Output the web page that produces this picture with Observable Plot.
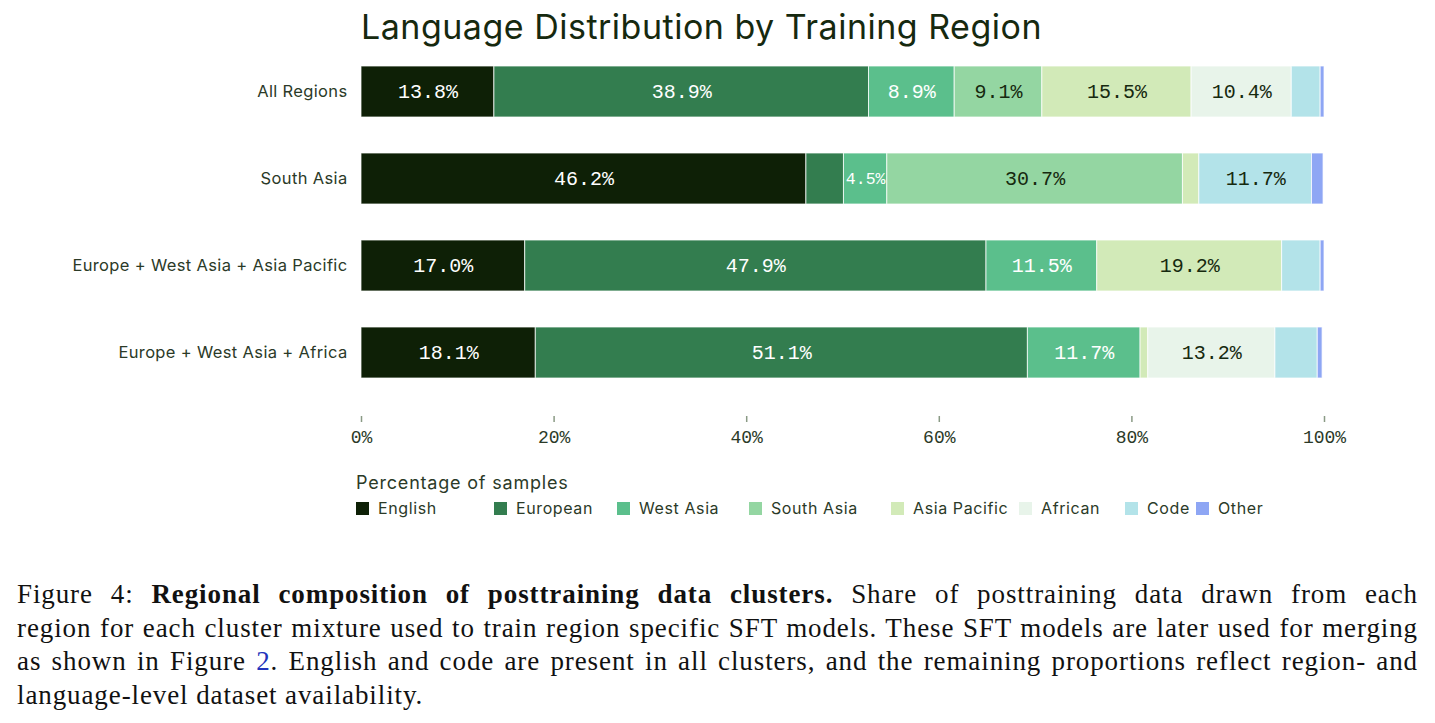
<!DOCTYPE html>
<html>
<head>
<meta charset="utf-8">
<script src="https://cdn.jsdelivr.net/npm/d3@7"></script>
<script src="https://cdn.jsdelivr.net/npm/@observablehq/plot@0.6"></script>
<style>
  html, body { margin: 0; padding: 0; background: #fff; }
  body { width: 1435px; height: 723px; overflow: hidden; position: relative; }
  #title { position: absolute; left: 361px; top: 0; height: 54px; line-height: 54px;
    font-family: Inter, sans-serif; font-size: 34px; letter-spacing: 0.5px; color: #16290f; white-space: nowrap; }
  #chart { position: absolute; left: 0; top: 54px; }
  #chart svg g[aria-label="y-axis tick label"] text { letter-spacing: 0.35px; }
  #legend { position: absolute; left: 356px; top: 470px; font-family: Inter, sans-serif; color: #2b3a28; }
  #legend .lt { font-size: 18px; letter-spacing: 0.8px; height: 26px; line-height: 26px; }
  #legend .row { display: grid; grid-template-columns: 138px 123px 132px 142px 128px 106px 71px auto;
    align-items: center; height: 24px; font-size: 16px; letter-spacing: 0.6px; }
  #legend .item { display: inline-flex; align-items: center; white-space: nowrap; }
  #legend .sw { width: 13px; height: 13px; margin-right: 9px; display: inline-block; }
  #caption { position: absolute; left: 17px; top: 578px; width: 1401px;
    font-family: "Liberation Serif", "Times New Roman", serif; font-size: 27px; letter-spacing: 0.9px; color: #111; }
  #caption .ln { height: 33.5px; line-height: 33.5px; text-align: justify; text-align-last: justify; white-space: nowrap; }
  #caption .ln.last { text-align-last: left; }
  #caption .ref { color: #2233bb; }
</style>
</head>
<body>
<div id="title">Language Distribution by Training Region</div>
<div id="chart"></div>
<div id="legend"></div>
<div id="caption">
  <div class="ln"><span>Figure 4: <b>Regional composition of posttraining data clusters.</b> Share of posttraining data drawn from each</span></div>
  <div class="ln"><span>region for each cluster mixture used to train region specific SFT models. These SFT models are later used for merging</span></div>
  <div class="ln"><span>as shown in Figure <span class="ref">2</span>. English and code are present in all clusters, and the remaining proportions reflect region- and</span></div>
  <div class="ln last"><span>language-level dataset availability.</span></div>
</div>
<script>
// ---- data ----
const regions = ["All Regions", "South Asia", "Europe + West Asia + Asia Pacific", "Europe + West Asia + Africa"];
const languages = ["English", "European", "West Asia", "South Asia", "Asia Pacific", "African", "Code", "Other"];
const colors = ["#0e2006", "#337d4f", "#5bbf8c", "#94d6a2", "#d2eab8", "#e8f4ea", "#b3e3e9", "#8ea6f4"];
const english     = [13.8, 46.2, 17.0, 18.1];
const european    = [38.9,  3.9, 47.9, 51.1];
const westAsia    = [ 8.9,  4.5, 11.5, 11.7];
const southAsia   = [ 9.1, 30.7,  0.0,  0.0];
const asiaPacific = [15.5,  1.7, 19.2,  0.8];
const african     = [10.4,  0.0,  0.0, 13.2];
const code        = [ 3.0, 11.7,  4.0,  4.4];
const other       = [ 0.4,  1.2,  0.4,  0.5];
const xTicks = [0, 20, 40, 60, 80, 100];
const lightTextLangs = ["English", "European", "West Asia"];

const series = [english, european, westAsia, southAsia, asiaPacific, african, code, other];
const table = regions.flatMap((r, i) => languages.map((l, j) => ({region: r, lang: l, value: series[j][i]})))
  .filter(d => d.value > 0);

const label = d => d.value >= 4.5 ? d.value.toFixed(1) + "%" : "";
const dark = "#16290f";
const labelFont = "Liberation Mono";

const chart = Plot.plot({
  width: 1435,
  height: 400,
  marginLeft: 361,
  marginRight: 111,
  marginTop: 0,
  marginBottom: 38,
  style: {fontFamily: "Inter, sans-serif", fontSize: "16px", background: "white", color: "#2b3a28"},
  x: {domain: [0, 100], label: null, axis: null},
  y: {domain: regions, range: [11, 326], paddingInner: 0.41, paddingOuter: 0, label: null, axis: null},
  color: {domain: languages, range: colors},
  marks: [
    Plot.barX(table, Plot.stackX({x: "value", y: "region", fill: "lang", z: "lang",
      stroke: "white", strokeOpacity: 0.75, strokeWidth: 1})),
    Plot.textX(table, Plot.stackX({x: "value", y: "region", z: "lang",
      text: d => lightTextLangs.includes(d.lang) ? label(d) : "",
      fill: "white", fontFamily: labelFont, fontSize: d => d.value < 6 ? 16.5 : 20})),
    Plot.textX(table, Plot.stackX({x: "value", y: "region", z: "lang",
      text: d => lightTextLangs.includes(d.lang) ? "" : label(d),
      fill: dark, fontFamily: labelFont, fontSize: d => d.value < 6 ? 16.5 : 20})),
    Plot.axisY({tickSize: 0, tickPadding: 14, fontSize: 16.5, fill: "#2b3a28", label: null}),
    Plot.axisX({ticks: xTicks, tickFormat: d => d + "%", tickSize: 6, tickPadding: 8,
      stroke: "#8a9a85", fill: "#2b3a28", strokeWidth: 1.5, line: true, label: null,
      fontFamily: labelFont, fontSize: 18})
  ]
});
document.getElementById("chart").appendChild(chart);

// ---- legend ----
const lg = d3.select("#legend");
lg.append("div").attr("class", "lt").text("Percentage of samples");
const row = lg.append("div").attr("class", "row");
const items = row.selectAll(".item").data(languages).join("div").attr("class", "item");
items.append("span").attr("class", "sw").style("background", (d, i) => colors[i]);
items.append("span").text(d => d);
</script>
</body>
</html>
